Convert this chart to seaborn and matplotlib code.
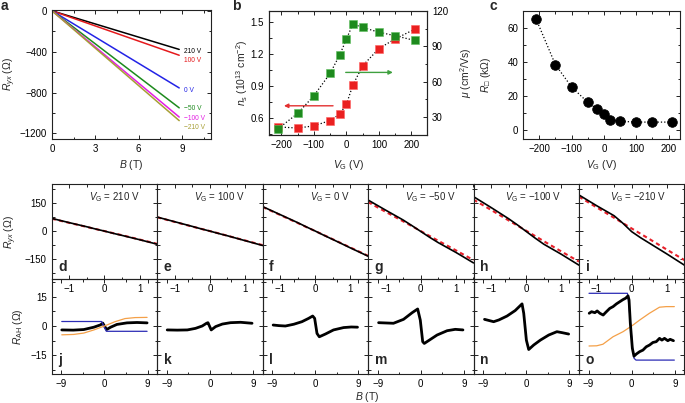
import matplotlib
matplotlib.use('Agg')
import matplotlib.pyplot as plt
from matplotlib.ticker import MultipleLocator
import seaborn as sns

# ---------------- data ----------------
# panel a: Hall resistance vs field, one straight trace per gate voltage
a_field = [0, 8.8]
a_gate = ['210 V', '100 V', '0 V', '−50 V', '−100 V', '−210 V']
a_end = [-378, -435, -755, -950, -1040, -1075]
a_text_y = [-400, -490, -780, -955, -1050, -1140]
a_colors = ['black', '#e5191c', '#2323e6', '#1d8a1d', '#e41ce4', '#a79f35']

# panels b, c: carrier density, mobility and sheet resistance vs gate voltage
vg = [-210, -150, -100, -50, -20, 0, 20, 50, 100, 150, 210]
ns = [0.52, 0.51, 0.53, 0.58, 0.64, 0.73, 0.91, 1.09, 1.25, 1.34, 1.43]
mu = [20, 33, 48, 67, 83, 96, 109, 106, 102, 99, 95]
rsq = [65.5, 38.6, 25.5, 16.5, 12.3, 9.4, 6.4, 5.4, 4.9, 4.9, 4.9]

# panels d-i: low field Hall traces (black) and linear fits (red)
hall_B = [-1.5, -1, -0.5, -0.25, 0, 0.25, 0.5, 1, 1.5]
d_black = [68, 45, 23, 11, 0, -12, -23, -46, -70]
d_fit = [66, 44, 22, 11, 0, -11, -22, -45, -68]
e_black = [75, 50, 25, 12, 0, -13, -25, -51, -77]
e_fit = [74, 49, 24, 12, 0, -12, -25, -50, -75]
f_black = [131, 88, 45, 22, 0, -23, -45, -90, -134]
f_fit = [129, 86, 43, 21, 0, -22, -44, -88, -132]
g_black = [166, 112, 59, 29, -2, -33, -62, -114, -170]
g_fit = [155, 103, 52, 26, 0, -26, -52, -103, -155]
h_black = [184, 126, 66, 33, -2, -37, -70, -124, -182]
h_fit = [168, 113, 57, 29, 2, -26, -54, -109, -163]
i_black = [193, 136, 82, 42, -3, -35, -64, -122, -182]
i_fit = [184, 127, 71, 43, 14, -14, -42, -99, -155]
gate_titles = ['210 V', '100 V', '0 V', '−50 V', '−100 V', '−210 V']

# panels j-o: anomalous Hall part
j_B = [-8.9, -6.5, -4.3, -2.2, -0.8, -0.35, 0.45, 1.3, 2.6, 4.7, 6.8, 8.9]
j_black = [-2.0, -2.1, -1.8, -0.6, 0.6, 1.5, -1.8, -0.6, 0.8, 1.6, 1.8, 1.6]
j_step_B = [-8.9, -0.6, 0.4, 8.9]
j_step = [2.3, 2.3, -2.7, -2.7]
j_tanh_B = [-8.9, -6.4, -4.3, -2.2, 0, 2.2, 4.3, 6.4, 8.9]
j_tanh = [-4.5, -4.3, -3.6, -2.0, 0, 2.2, 3.8, 4.3, 4.4]
k_B = [-8.9, -6.8, -4.7, -3.0, -1.6, -0.7, -0.4, 0.28, 1.2, 2.6, 4.3, 6.4, 8.8]
k_black = [-2.0, -2.1, -2.0, -1.2, 0, 1.4, 1.7, -2.0, -0.3, 1.0, 1.7, 1.9, 1.4]
l_B = [-8.8, -7.6, -6.25, -4.5, -2.8, -1.4, -0.55, -0.14, 0.35, 0.83, 2.1, 3.8, 5.9, 7.5, 8.8]
l_black = [0.5, 0.2, 0, 0.9, 2.2, 3.9, 5.1, 3.9, -3.8, -5.5, -4.1, -2.0, -0.8, -0.5, -0.6]
m_B = [-8.8, -5.7, -3.6, -1.8, -0.65, -0.1, 0.4, 0.73, 1.6, 3.4, 5.5, 7.2, 8.8]
m_black = [1.7, 1.4, 3.4, 6.8, 8.7, 3.0, -8.0, -8.9, -7.5, -4.6, -2.4, -1.7, -2.0]
n_B = [-8.7, -6.8, -5.7, -4.0, -2.3, -0.87, -0.52, 0.03, 0.52, 1.56, 2.95, 4.7, 6.4, 7.5, 8.85]
n_black = [3.4, 2.2, 3.1, 5.1, 7.9, 11.3, 6.5, -7.2, -12.0, -9.7, -7.2, -4.6, -2.9, -3.4, -4.1]
o_B = [-8.86, -8.37, -7.68, -7.2, -6.64, -5.95, -5.4, -4.57, -3.88, -3.18, -2.49, -1.8,
       -1.25, -0.76, -0.55, -0.28, 0.14, 0.48, 0.97, 1.66, 2.35, 3.04, 3.74, 4.43, 5.12,
       5.81, 6.3, 6.85, 7.54, 8.03, 8.72]
o_black = [6.5, 7.3, 6.8, 7.7, 6.5, 5.6, 7.0, 9.0, 9.9, 11.3, 12.4, 13.5, 14.2, 15.4, 13.3,
           1.4, -11.4, -15.4, -14.3, -13.1, -12.3, -10.6, -9.7, -8.4, -8.0, -6.3, -7.2,
           -6.3, -7.5, -6.8, -7.5]
o_step_B = [-8.9, -0.9, -0.75, -0.3, 0.15, 0.5, 0.9, 8.9]
o_step = [16.7, 16.7, 15.0, 3.0, -10.5, -16.5, -17.4, -17.4]
o_tanh_B = [-8.9, -7.3, -6.0, -3.9, -1.8, 0, 1.7, 3.7, 5.8, 7.2, 8.9]
o_tanh = [-10.2, -10.1, -9.3, -5.5, -2.9, 0, 3.1, 6.5, 9.6, 9.9, 9.9]

# ---------------- style ----------------
sns.set_style('ticks')
plt.rcParams['font.family'] = ['Liberation Sans', 'DejaVu Sans']
plt.rcParams['mathtext.fontset'] = 'custom'
plt.rcParams['mathtext.rm'] = 'Liberation Sans'
plt.rcParams['mathtext.it'] = 'Liberation Sans:italic'
plt.rcParams['mathtext.bf'] = 'Liberation Sans:bold'
plt.rcParams['mathtext.fallback'] = 'stixsans'
plt.rcParams['font.size'] = 7
plt.rcParams['axes.labelsize'] = 7.5
plt.rcParams['xtick.labelsize'] = 7
plt.rcParams['ytick.labelsize'] = 7
plt.rcParams['axes.linewidth'] = 0.8
plt.rcParams['axes.edgecolor'] = '#222222'

W, H = 685, 403
fig = plt.figure(figsize=(W / 100, H / 100), dpi=100)


def rect(l, t, r, b):
    return [l / W, 1 - b / H, (r - l) / W, (b - t) / H]


def style(ax, xmin, ymin, right=True):
    ax.tick_params(which='both', direction='in', top=True, right=right,
                   width=0.7, colors='#222222', labelcolor='black')
    ax.tick_params(which='major', length=3)
    ax.tick_params(which='minor', length=1.8)
    ax.xaxis.set_minor_locator(MultipleLocator(xmin))
    ax.yaxis.set_minor_locator(MultipleLocator(ymin))


# ---------------- panel a ----------------
ax_a = fig.add_axes(rect(52, 10, 211, 139))
for gate, end, ty, col in zip(a_gate, a_end, a_text_y, a_colors):
    sns.lineplot(x=a_field, y=[0, end], ax=ax_a, color=col, linewidth=1.1)
    ax_a.text(9.15, ty, gate, color=col, fontsize=4.8, va='center', ha='left')
ax_a.set_xlim(0, 11)
ax_a.set_ylim(-1255, 8)
ax_a.set_xticks([0, 3, 6, 9])
ax_a.set_yticks([0, -400, -800, -1200])
style(ax_a, 1.5, 200)
ax_a.set_xlabel(r'$B$ (T)')
ax_a.set_ylabel(r'$R_{yx}$ (Ω)')
ax_a.xaxis.set_label_coords(0.5, -0.15)
ax_a.yaxis.set_label_coords(-0.215, 0.5)

# ---------------- panel b ----------------
ax_b = fig.add_axes(rect(269, 11, 427, 135))
ax_b2 = ax_b.twinx()
sns.lineplot(x=vg, y=ns, ax=ax_b, color='black', linestyle=':', linewidth=0.9)
sns.scatterplot(x=vg, y=ns, ax=ax_b, marker='s', s=36, color='#ea2020',
                edgecolor='#ff6060', linewidth=0.4, zorder=3)
sns.lineplot(x=vg, y=mu, ax=ax_b2, color='black', linestyle=':', linewidth=0.9)
sns.scatterplot(x=vg, y=mu, ax=ax_b2, marker='s', s=36, color='#1e8a1e',
                edgecolor='#5fbf5f', linewidth=0.4, zorder=3)
ax_b.annotate('', xy=(-192, 0.717), xytext=(-41, 0.717),
              arrowprops=dict(arrowstyle='-|>', color='#e33030', lw=1.0,
                              mutation_scale=6, shrinkA=0, shrinkB=0))
ax_b.annotate('', xy=(143, 1.028), xytext=(-2, 1.028),
              arrowprops=dict(arrowstyle='-|>', color='#3fa03f', lw=1.0,
                              mutation_scale=6, shrinkA=0, shrinkB=0))
ax_b.set_xlim(-238, 248)
ax_b.set_ylim(0.445, 1.6)
ax_b2.set_ylim(14.7, 120)
ax_b.set_xticks([-200, -100, 0, 100, 200])
ax_b.set_yticks([0.6, 0.9, 1.2, 1.5])
ax_b2.set_yticks([30, 60, 90, 120])
style(ax_b, 50, 0.15, right=False)
ax_b2.tick_params(which='both', direction='in', right=True, width=0.7,
                  colors='#222222', labelcolor='black')
ax_b2.tick_params(which='major', length=3)
ax_b2.tick_params(which='minor', length=1.8)
ax_b2.yaxis.set_minor_locator(MultipleLocator(15))
ax_b.set_xlabel(r'$V_{\mathrm{G}}$ (V)')
ax_b.set_ylabel(r'$n_{\mathrm{s}}$ (10$^{13}$ cm$^{-2}$)')
ax_b2.set_ylabel(r'$μ$ (cm$^{2}$/Vs)')
ax_b.xaxis.set_label_coords(0.5, -0.185)
ax_b.yaxis.set_label_coords(-0.12, 0.5)
ax_b2.yaxis.set_label_coords(1.20, 0.5)

# ---------------- panel c ----------------
ax_c = fig.add_axes(rect(523, 11, 680, 139))
sns.lineplot(x=vg, y=rsq, ax=ax_c, color='black', linestyle=':', linewidth=0.9)
sns.scatterplot(x=vg, y=rsq, ax=ax_c, marker='o', s=48, color='black',
                edgecolor='black', zorder=3)
ax_c.set_xlim(-250, 235)
ax_c.set_ylim(-5, 70)
ax_c.set_xticks([-200, -100, 0, 100, 200])
ax_c.set_yticks([0, 20, 40, 60])
style(ax_c, 50, 10)
ax_c.set_xlabel(r'$V_{\mathrm{G}}$ (V)')
ax_c.set_ylabel(r'$R_{□}$ (kΩ)')
ax_c.xaxis.set_label_coords(0.5, -0.145)
ax_c.yaxis.set_label_coords(-0.19, 0.5)

for letter, x in zip('abc', [1, 232, 489]):
    fig.text(x / W, 1 - 10 / H, letter, fontsize=10, fontweight='bold', va='baseline')

# ---------------- panels d-o ----------------
top_black = [d_black, e_black, f_black, g_black, h_black, i_black]
top_fit = [d_fit, e_fit, f_fit, g_fit, h_fit, i_fit]
bottom_B = [j_B, k_B, l_B, m_B, n_B, o_B]
bottom_black = [j_black, k_black, l_black, m_black, n_black, o_black]
col_w = 105.45
for n in range(6):
    left = 51.7 + n * col_w
    ax_t = fig.add_axes(rect(left, 184.3, left + col_w, 279))
    ax_l = fig.add_axes(rect(left, 279, left + col_w, 374))
    ax_l.patch.set_facecolor('none')

    sns.lineplot(x=hall_B, y=top_fit[n], ax=ax_t, color='#e8202a',
                 linestyle=(0, (2, 1.6)), linewidth=1.5)
    sns.lineplot(x=hall_B, y=top_black[n], ax=ax_t, color='black', linewidth=1.2)
    ax_t.set_xlim(-1.5, 1.5)
    ax_t.set_ylim(-256, 250)
    ax_t.set_xticks([-1, 0, 1])
    ax_t.set_yticks([-150, 0, 150])
    style(ax_t, 0.5, 75)
    ax_t.text(0.83, 0.835, r'$V_{\mathrm{G}}$ = ' + gate_titles[n], transform=ax_t.transAxes,
              ha='right', va='baseline', fontsize=7)
    ax_t.text(0.063, 0.085, 'defghi'[n], transform=ax_t.transAxes,
              fontsize=10, fontweight='bold', va='baseline')

    sns.lineplot(x=bottom_B[n], y=bottom_black[n], ax=ax_l, color='black',
                 linewidth=2.0, sort=False)
    ax_l.set_xlim(-11, 11)
    ax_l.set_ylim(-24.5, 24)
    ax_l.set_xticks([-9, 0, 9])
    ax_l.set_yticks([-15, 0, 15])
    style(ax_l, 4.5, 7.5)
    ax_l.text(0.063, 0.105, 'jklmno'[n], transform=ax_l.transAxes,
              fontsize=10, fontweight='bold', va='baseline')

    if n == 0:
        sns.lineplot(x=j_step_B, y=j_step, ax=ax_l, color='#2b2bb5', linewidth=0.9, sort=False)
        sns.lineplot(x=j_tanh_B, y=j_tanh, ax=ax_l, color='#f4a048', linewidth=0.9)
        ax_t.set_ylabel(r'$R_{yx}$ (Ω)')
        ax_l.set_ylabel(r'$R_{\mathrm{AH}}$ (Ω)')
        ax_t.yaxis.set_label_coords(-0.31, 0.5)
        ax_l.yaxis.set_label_coords(-0.25, 0.5)
    else:
        ax_t.tick_params(labelleft=False)
        ax_l.tick_params(labelleft=False)
    if n == 5:
        sns.lineplot(x=o_step_B, y=o_step, ax=ax_l, color='#2b2bb5', linewidth=0.9, sort=False)
        sns.lineplot(x=o_tanh_B, y=o_tanh, ax=ax_l, color='#f4a048', linewidth=0.9)
        # keep the measured trace on top of the fits
        ax_l.lines[0].set_zorder(4)

fig.text(367 / W, 1 - 397 / H, r'$B$ (T)', ha='center', va='center', fontsize=7.5)

fig.savefig('out.png', dpi=100)
